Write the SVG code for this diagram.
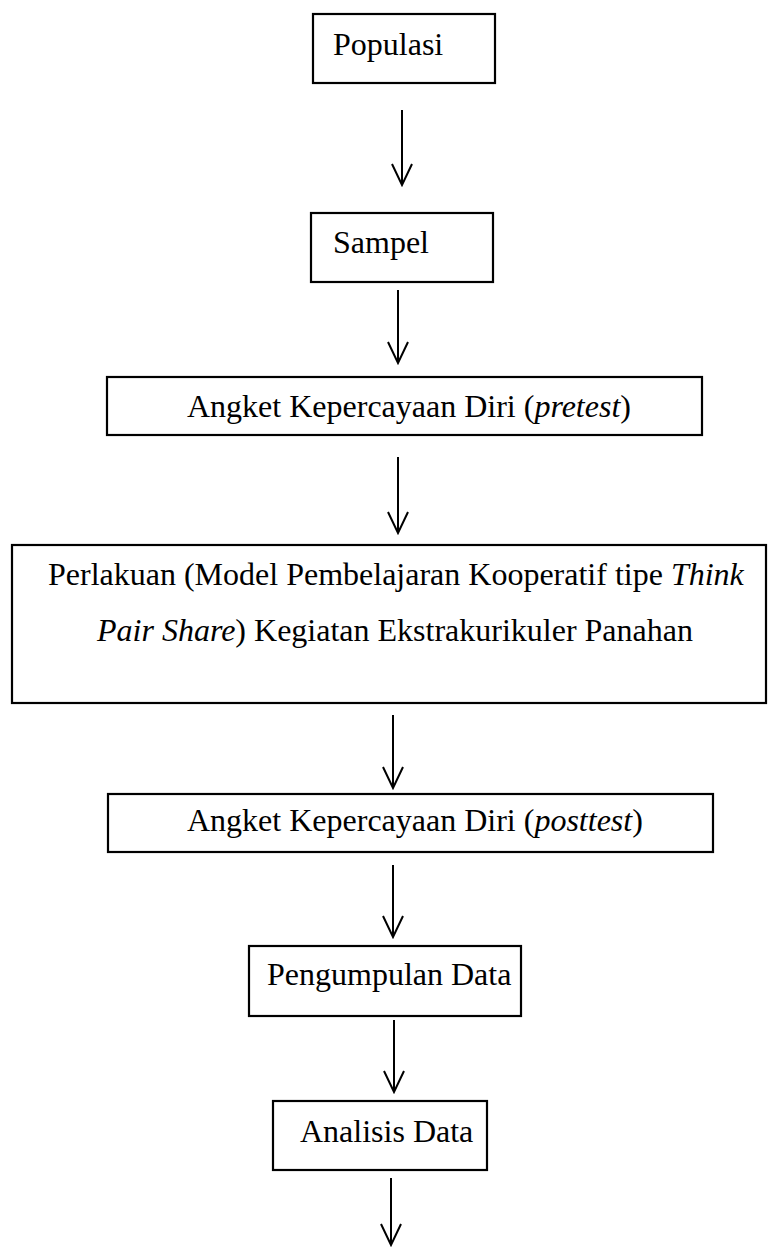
<svg xmlns="http://www.w3.org/2000/svg" width="768" height="1247" viewBox="0 0 768 1247">
<style>
.box{fill:#fff;stroke:#000;stroke-width:2.2}
.t{font-family:"Liberation Serif","Times New Roman",serif;font-size:32px;fill:#000}
.i{font-style:italic}
.c{stroke:#000;stroke-width:2;fill:none}
</style>
<defs>
<marker id="ah" markerUnits="userSpaceOnUse" markerWidth="24" markerHeight="24" viewBox="-22 -12 24 24" refX="0" refY="0" orient="auto">
<path d="M-21,-10 L0,0 L-21,10" fill="none" stroke="#000" stroke-width="2"/>
</marker>
</defs>
<rect width="768" height="1247" fill="#fff"/>
<g id="populasi"><rect class="box" x="313" y="14" width="182" height="69"/><text class="t" x="333" y="55">Populasi</text></g>
<g id="sampel"><rect class="box" x="311" y="213" width="182" height="69"/><text class="t" x="333" y="253">Sampel</text></g>
<g id="pretest"><rect class="box" x="107" y="377" width="595" height="58"/><text class="t" x="187" y="417">Angket Kepercayaan Diri (<tspan class="i">pretest</tspan>)</text></g>
<g id="perlakuan"><rect class="box" x="12" y="545" width="754" height="158"/><text class="t" x="48" y="585">Perlakuan (Model Pembelajaran Kooperatif tipe <tspan class="i">Think</tspan></text><text class="t" x="97" y="641"><tspan class="i">Pair Share</tspan>) Kegiatan Ekstrakurikuler Panahan</text></g>
<g id="posttest"><rect class="box" x="108" y="794" width="605" height="58"/><text class="t" x="187" y="831">Angket Kepercayaan Diri (<tspan class="i">posttest</tspan>)</text></g>
<g id="pengumpulan"><rect class="box" x="249" y="946" width="272" height="70"/><text class="t" x="267" y="985">Pengumpulan Data</text></g>
<g id="analisis"><rect class="box" x="273" y="1101" width="214" height="69"/><text class="t" x="300" y="1142">Analisis Data</text></g>
<g id="connectors">
<line class="c" x1="402" y1="110" x2="402" y2="185" marker-end="url(#ah)"/>
<line class="c" x1="398" y1="290" x2="398" y2="363" marker-end="url(#ah)"/>
<line class="c" x1="398" y1="457" x2="398" y2="533" marker-end="url(#ah)"/>
<line class="c" x1="393" y1="715" x2="393" y2="788" marker-end="url(#ah)"/>
<line class="c" x1="393" y1="865" x2="393" y2="937" marker-end="url(#ah)"/>
<line class="c" x1="394" y1="1020" x2="394" y2="1092" marker-end="url(#ah)"/>
<line class="c" x1="391" y1="1178" x2="391" y2="1245" marker-end="url(#ah)"/>
</g>
</svg>
